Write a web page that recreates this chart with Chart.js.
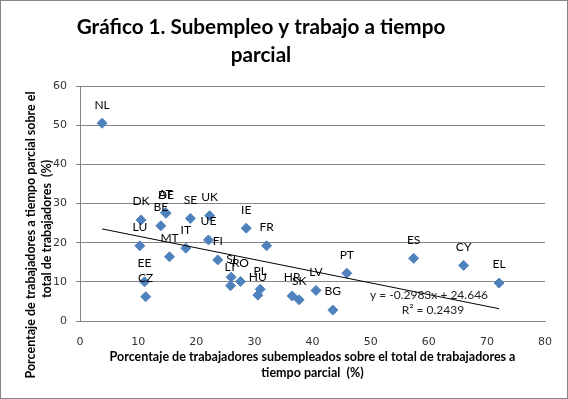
<!DOCTYPE html>
<html><head><meta charset="utf-8">
<script src="https://cdn.jsdelivr.net/npm/chart.js@4/dist/chart.umd.min.js"></script>
<style>html,body{margin:0;padding:0;background:#fff}#wrap{width:568px;height:399px}</style>
</head><body><div id="wrap"><canvas id="c" width="568" height="399"></canvas></div>
<script>
const countries = ['NL','DK','AT','DE','BE','SE','UK','IE','LU','UE','IT','FR','MT','FI','EE','CZ','SI','RO','LT','PL','HU','HR','SK','LV','BG','PT','ES','CY','EL'];
const xValues = [3.8,10.5,14.7,14.8,13.9,19.0,22.3,28.6,10.3,22.1,18.2,32.1,15.4,23.7,11.1,11.3,26.0,27.6,25.9,31.0,30.6,36.5,37.7,40.6,43.5,45.9,57.4,66.0,72.1];
const yValues = [50.5,25.8,27.7,27.5,24.3,26.2,26.9,23.7,19.2,20.7,18.6,19.2,16.4,15.6,10.0,6.2,11.2,10.1,9.0,8.1,6.6,6.4,5.4,7.8,2.8,12.2,16.0,14.2,9.7];
const xTicks = [0,10,20,30,40,50,60,70,80];
const yTicks = [0,10,20,30,40,50,60];
const trendSlope = -0.2983;
const trendIntercept = 24.646;
const trendR2 = '0.2439';
const trendXRange = [3.8, 72.1];
const titleLines = ['Gráfico 1. Subempleo y trabajo a tiempo', 'parcial'];
const xTitleLines = ['Porcentaje de trabajadores subempleados sobre el total de trabajadores a', 'tiempo parcial  (%)'];
const yTitleLines = ['Porcentaje de trabajadores a tiempo parcial sobre el', 'total de trabajadores  (%)'];

const FONT = 'Lato';
const TICKFONT = 'DejaVu Sans';
const pts = xValues.map((x, i) => ({x: x, y: yValues[i]}));
const trendPts = trendXRange.map(x => ({x: x, y: trendSlope * x + trendIntercept}));

const decor = {
  id: 'decor',
  afterDatasetsDraw(chart) {
    const ctx = chart.ctx;
    const meta = chart.getDatasetMeta(1);
    ctx.save();
    ctx.font = '12px ' + FONT;
    ctx.fillStyle = '#000';
    ctx.textAlign = 'center';
    ctx.textBaseline = 'middle';
    meta.data.forEach((el, i) => {
      ctx.fillText(countries[i], el.x, el.y - 18.5);
    });
    ctx.fillStyle = '#222';
    ctx.fillText('y = ' + trendSlope + 'x + ' + trendIntercept, 429, 295);
    ctx.fillText('R² = ' + trendR2, 433, 310);
    ctx.restore();
  },
  afterDraw(chart) {
    const ctx = chart.ctx;
    ctx.save();
    ctx.font = 'bold 20.7px ' + FONT;
    ctx.fillStyle = '#000';
    ctx.textAlign = 'center';
    ctx.textBaseline = 'alphabetic';
    ctx.fillText(titleLines[0], 261, 34);
    ctx.fillText(titleLines[1], 261, 62);
    // y axis title
    ctx.font = 'bold 12.5px ' + FONT;
    ctx.textBaseline = 'middle';
    [[31, 235], [46.5, 229]].forEach((p, i) => {
      ctx.save();
      ctx.translate(p[0], p[1]);
      ctx.rotate(-Math.PI / 2);
      ctx.fillText(yTitleLines[i], 0, 0);
      ctx.restore();
    });
    ctx.strokeStyle = '#868686';
    ctx.lineWidth = 1;
    ctx.strokeRect(0.5, 0.5, 567, 398);
    ctx.restore();
  }
};

new Chart(document.getElementById('c'), {
  type: 'scatter',
  data: {
    datasets: [
      {
        type: 'line',
        data: trendPts,
        borderColor: '#000',
        borderWidth: 1,
        pointRadius: 0,
        fill: false
      },
      {
        data: pts,
        pointStyle: 'rectRot',
        pointRadius: 5,
        pointHoverRadius: 5,
        backgroundColor: '#4F81BD',
        borderColor: '#4F81BD',
        borderWidth: 1
      }
    ]
  },
  options: {
    responsive: false,
    animation: false,
    devicePixelRatio: 1,
    layout: {padding: {top: 86, right: 23, left: 0, bottom: 0}},
    plugins: {legend: {display: false}, tooltip: {enabled: false}, title: {display: false}},
    scales: {
      x: {
        type: 'linear', min: 0, max: 80,
        afterBuildTicks: s => { s.ticks = xTicks.map(v => ({value: v})); },
        afterFit: s => { s.height = 78; },
        grid: {display: false},
        border: {display: true, color: '#868686', width: 1},
        ticks: {color: '#333', font: {family: TICKFONT, size: 11}, padding: 7, maxRotation: 0},
        title: {display: true, text: xTitleLines, color: '#000', font: {family: FONT, size: 12.5, weight: 'bold', lineHeight: 1.3}, padding: {top: 0, bottom: 18}}
      },
      y: {
        type: 'linear', min: 0, max: 60,
        afterBuildTicks: s => { s.ticks = yTicks.map(v => ({value: v})); },
        afterFit: s => { s.width = 80; },
        grid: {color: '#868686', tickLength: 4, drawTicks: true},
        border: {display: true, color: '#868686', width: 1},
        ticks: {color: '#333', font: {family: TICKFONT, size: 11}, padding: 9},
        title: {display: false}
      }
    }
  },
  plugins: [decor]
});
</script></body></html>
